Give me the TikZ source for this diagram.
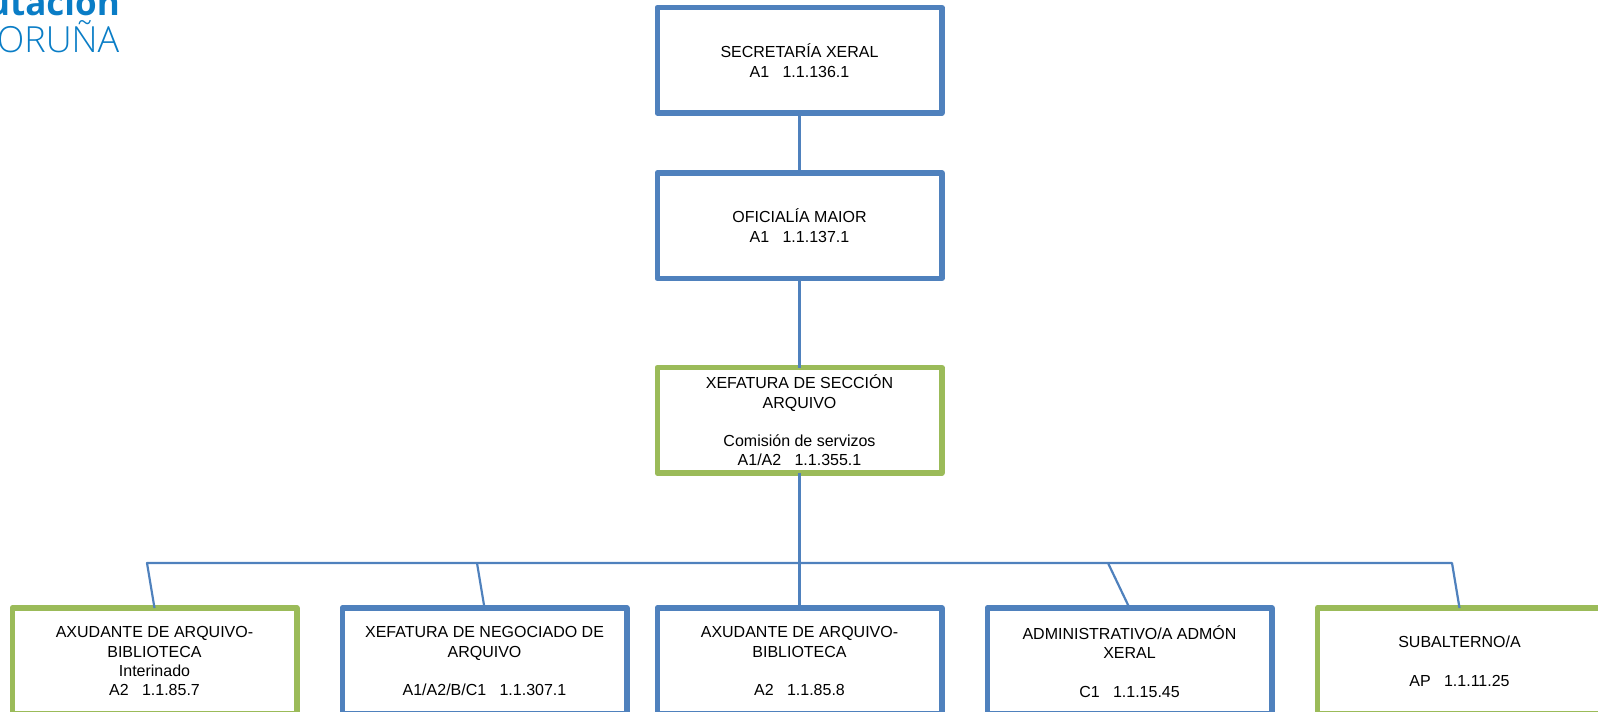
\documentclass[tikz,border=0pt]{standalone}
\usepackage{fontspec}
\setmainfont{Liberation Sans}
\newfontfamily\logofont{Open Sans}
\newfontfamily\logolight{Open Sans Light}
\definecolor{boxblue}{HTML}{4F81BD}
\definecolor{boxgreen}{HTML}{9BBB59}
\definecolor{logoblue}{HTML}{0A7DC6}
\tikzset{
 orgbox/.style={draw=#1,line width=5.5pt,fill=white,rectangle,line join=round,outer sep=0pt,inner sep=0pt,minimum width=284.5pt},
 tallbox/.style={minimum height=105.5pt},
 lowbox/.style={minimum height=106pt},
 orgtext/.style={font=\fontsize{16pt}{19.3pt}\selectfont,align=center,inner sep=0pt,text=black},
 link/.style={draw=boxblue,line width=2.2pt,line join=round},
 logotext/.style={anchor=base east,inner sep=0pt,text=logoblue}
}
\begin{document}
\begin{tikzpicture}[x=1pt,y=-1pt]
\useasboundingbox (0,0) rectangle (1598,712);
\clip (0,0) rectangle (1598,712);
% logo
\node[logotext,font=\logofont\bfseries\fontsize{35pt}{35pt}\selectfont] (logoa) at (120,16) {utación};
\node[logotext,font=\logolight\fontsize{36pt}{36pt}\selectfont] (logob) at (119.5,52.5) {ORUÑA};
% boxes
\node[orgbox=boxblue,tallbox] (sec) at (799.5,60.25) {};
\node[orgbox=boxblue,tallbox] (ofi) at (799.5,225.75) {};
\node[orgbox=boxgreen,tallbox] (xef) at (799.5,420.25) {};
\node[orgbox=boxgreen,lowbox] (b1) at (154.5,661) {};
\node[orgbox=boxblue,lowbox] (b2) at (484.5,661) {};
\node[orgbox=boxblue,lowbox] (b3) at (799.5,661) {};
\node[orgbox=boxblue,lowbox] (b4) at (1129.5,661) {};
\node[orgbox=boxgreen,lowbox] (b5) at (1459.5,661) {};
% connectors
\coordinate (barl) at (147,563);
\coordinate (barr) at (1452,563);
\coordinate (j2) at (477,563);
\coordinate (j4) at (1108,563);
\draw[link] (sec.south) -- (ofi.north);
\draw[link] (ofi.south) -- (xef.north);
\draw[link] (xef.south) -- (b3.north);
\draw[link] (b1.north) -- (barl) -- (barr) -- (b5.north);
\draw[link] (j2) -- (b2.north);
\draw[link] (j4) -- (b4.north);
% texts
\node[orgtext] (tsec) at (799.5,60.7) {SECRETARÍA XERAL\\A1~~~1.1.136.1};
\node[orgtext] (tofi) at (799.5,225.6) {OFICIALÍA MAIOR\\A1~~~1.1.137.1};
\node[orgtext] (txef) at (799.5,420.5) {XEFATURA DE SECCIÓN\\ARQUIVO\\\mbox{}\\Comisión de servizos\\A1/A2~~~1.1.355.1};
\node[orgtext] (tb1) at (154.5,661.2) {AXUDANTE DE ARQUIVO-\\BIBLIOTECA\\Interinado\\A2~~~1.1.85.7};
\node[orgtext] (tb2) at (484.5,661.2) {XEFATURA DE NEGOCIADO DE\\ARQUIVO\\\mbox{}\\A1/A2/B/C1~~~1.1.307.1};
\node[orgtext] (tb3) at (799.5,661.2) {AXUDANTE DE ARQUIVO-\\BIBLIOTECA\\\mbox{}\\A2~~~1.1.85.8};
\node[orgtext] (tb4) at (1129.5,661.2) {ADMINISTRATIVO/A ADMÓN\\XERAL\\\mbox{}\\C1~~~1.1.15.45};
\node[orgtext] (tb5) at (1459.5,661.2) {SUBALTERNO/A\\\mbox{}\\AP~~~1.1.11.25};
\end{tikzpicture}
\end{document}
